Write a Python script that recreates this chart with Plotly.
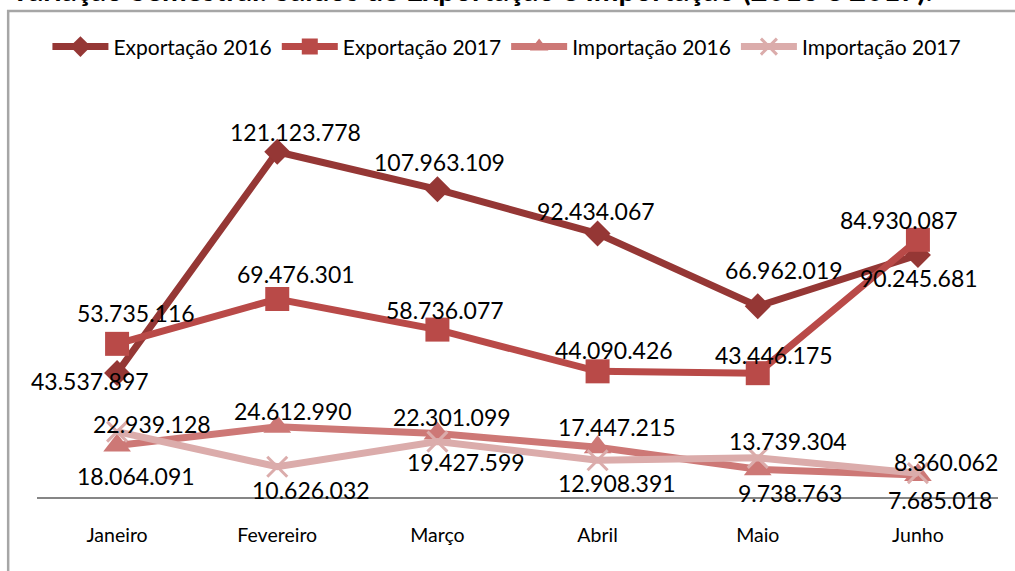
import plotly.graph_objects as go

months = ["Janeiro", "Fevereiro", "Março", "Abril", "Maio", "Junho"]
exp_2016 = [43537897, 121123778, 107963109, 92434067, 66962019, 84930087]
exp_2017 = [53735116, 69476301, 58736077, 44090426, 43446175, 90245681]
imp_2016 = [18064091, 24612990, 22301099, 17447215, 9738763, 7685018]
imp_2017 = [22939128, 10626032, 19427599, 12908391, 13739304, 8360062]

series_names = ["Exportação 2016", "Exportação 2017", "Importação 2016", "Importação 2017"]
title_text = "Variação Semestral: Saldos de Exportação e Importação (2016 e 2017)."

# styles
colors = ["#953735", "#B94A48", "#CD7876", "#DBACAB"]
symbols = ["diamond", "square", "triangle-up", "x-thin"]
msizes = [20, 24, 24, 20]
# label offsets in pixels (dx right, dy down) relative to each marker
label_dx = [
    [-27, 18, 2, -2, 26, -19],
    [19, 19, 8, 16, 16, 1],
    [19, 16, 15, 19, 32, 22],
    [35, 34, 29, 19, 30, 28],
]
label_dy = [
    [8, -20, -27, -23, -36, -35],
    [-31, -25, -20, -21, -18, 38],
    [30, -16, -16, -20, 24, 25],
    [-8, 23, 20, 23, -17, -11],
]

FONT = "Lato, 'Open Sans', sans-serif"

def fmt(v):
    return f"{v:,}".replace(",", ".")

fig = go.Figure()
all_series = [exp_2016, exp_2017, imp_2016, imp_2017]
for i, (name, vals) in enumerate(zip(series_names, all_series)):
    marker = dict(symbol=symbols[i], size=msizes[i], color=colors[i])
    if symbols[i] == "x-thin":
        marker["line"] = dict(width=3, color=colors[i])
    fig.add_trace(go.Scatter(
        x=months, y=vals, name=name, mode="lines+markers",
        line=dict(color=colors[i], width=7),
        marker=marker, cliponaxis=False,
    ))

annotations = []
for i, vals in enumerate(all_series):
    for j, (m, v) in enumerate(zip(months, vals)):
        annotations.append(dict(
            x=m, y=v, xref="x", yref="y", text=fmt(v), showarrow=False,
            xshift=label_dx[i][j], yshift=-label_dy[i][j],
            font=dict(family=FONT, size=23, color="#000000"),
        ))

# partially visible title at top
annotations.append(dict(
    x=-0.031, y=1.273, xref="paper", yref="paper", xanchor="left", yanchor="middle",
    text="<b>" + title_text + "</b>", showarrow=False,
    font=dict(family=FONT, size=29.5, color="#000000"),
))

fig.update_layout(
    width=1015, height=571,
    margin=dict(l=37, r=17, t=98, b=74),
    paper_bgcolor="white", plot_bgcolor="white",
    font=dict(family=FONT, color="#000000"),
    showlegend=True,
    legend=dict(orientation="h", x=0.489, xanchor="center", y=1.128, yanchor="middle",
                font=dict(family=FONT, size=21), itemwidth=56, traceorder="normal"),
    annotations=annotations,
    shapes=[dict(type="rect", xref="paper", yref="paper", x0=-0.030, x1=1.1, y0=-0.4, y1=1.218,
                 line=dict(color="#A6A6A6", width=2.5), layer="below")],
    xaxis=dict(showline=True, linecolor="#868686", linewidth=1.5, showgrid=False,
               ticks="outside", ticklen=20, tickcolor="rgba(0,0,0,0)",
               tickfont=dict(family=FONT, size=19.5, color="#000000"),
               range=[-0.5, 5.5], zeroline=False),
    yaxis=dict(visible=False, range=[0, 140000000], showgrid=False, zeroline=False),
)

fig.write_html("out.html", config={"displayModeBar": False},
               post_script="document.body.style.margin='0px';")
